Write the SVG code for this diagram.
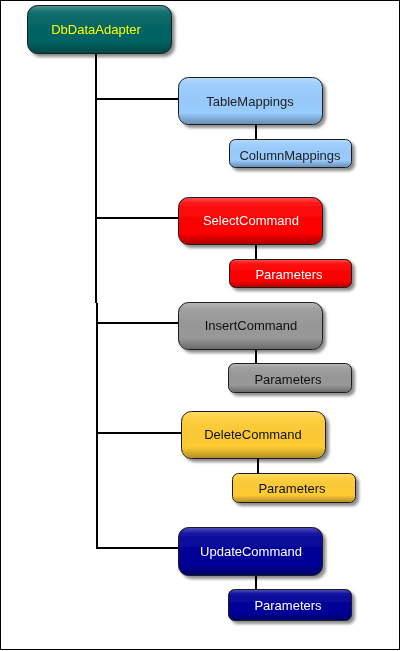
<svg xmlns="http://www.w3.org/2000/svg" width="401" height="651" viewBox="0 0 401 651">
<style>
.txt{font-family:"Liberation Sans",Arial,sans-serif;font-size:13px;text-anchor:middle;dominant-baseline:central}
.box{stroke:#1a1a1a;stroke-width:1}
.bev{fill:url(#bevel);stroke:none}
.con{fill:none;stroke:#000;stroke-width:2}
</style>
<defs>
<filter id="sh" x="-10%" y="-20%" width="130%" height="160%">
<feGaussianBlur in="SourceAlpha" stdDeviation="1.6"/>
<feOffset dx="3" dy="3" result="b"/>
<feComponentTransfer><feFuncA type="linear" slope="0.45"/></feComponentTransfer>
<feMerge><feMergeNode/><feMergeNode in="SourceGraphic"/></feMerge>
</filter>
<linearGradient id="bevel" x1="0" y1="0" x2="0" y2="1">
<stop offset="0" stop-color="#fff" stop-opacity="0.3"/>
<stop offset="0.12" stop-color="#fff" stop-opacity="0.08"/>
<stop offset="0.75" stop-color="#000" stop-opacity="0"/>
<stop offset="1" stop-color="#000" stop-opacity="0.3"/>
</linearGradient>
</defs>
<rect x="0.5" y="0.5" width="399" height="649" fill="#fff" stroke="#000" stroke-width="1"/>
<g id="connectors">
<path class="con" d="M96 54 V303 M97 303 V548 H178"/>
<path class="con" d="M96 99 H178"/>
<path class="con" d="M96 218 H178"/>
<path class="con" d="M97 323 H178"/>
<path class="con" d="M97 433 H181"/>
<path class="con" d="M256 125 V139"/>
<path class="con" d="M256 244 V259"/>
<path class="con" d="M256 350 V363"/>
<path class="con" d="M258 459 V473"/>
<path class="con" d="M256 576 V589"/>
</g>
<g id="dbdataadapter" filter="url(#sh)">
<rect class="box" x="27.5" y="5.5" width="144" height="48" rx="10" fill="#006464"/>
<rect class="bev" x="28" y="6" width="143" height="47" rx="10"/>
<text class="txt" x="96" y="29" fill="#ffff00">DbDataAdapter</text>
</g>
<g id="tablemappings" filter="url(#sh)">
<rect class="box" x="178.5" y="77.5" width="144" height="47" rx="10" fill="#99ccff"/>
<rect class="bev" x="179" y="78" width="143" height="46" rx="10"/>
<text class="txt" x="250" y="101" fill="#222">TableMappings</text>
</g>
<g id="columnmappings" filter="url(#sh)">
<rect class="box" x="229.5" y="139.5" width="122" height="28" rx="6" fill="#99ccff"/>
<rect class="bev" x="230" y="140" width="121" height="27" rx="6"/>
<text class="txt" x="290" y="155" fill="#222">ColumnMappings</text>
</g>
<g id="selectcommand" filter="url(#sh)">
<rect class="box" x="178.5" y="197.5" width="144" height="47" rx="10" fill="#ff0000"/>
<rect class="bev" x="179" y="198" width="143" height="46" rx="10"/>
<text class="txt" x="251" y="220" fill="#fff">SelectCommand</text>
</g>
<g id="select-parameters" filter="url(#sh)">
<rect class="box" x="229.5" y="259.5" width="122" height="28" rx="6" fill="#ff0000"/>
<rect class="bev" x="230" y="260" width="121" height="27" rx="6"/>
<text class="txt" x="289" y="274" fill="#fff">Parameters</text>
</g>
<g id="insertcommand" filter="url(#sh)">
<rect class="box" x="178.5" y="302.5" width="144" height="47" rx="10" fill="#999999"/>
<rect class="bev" x="179" y="303" width="143" height="46" rx="10"/>
<text class="txt" x="251" y="325" fill="#111">InsertCommand</text>
</g>
<g id="insert-parameters" filter="url(#sh)">
<rect class="box" x="228.5" y="363.5" width="123" height="29" rx="6" fill="#999999"/>
<rect class="bev" x="229" y="364" width="122" height="28" rx="6"/>
<text class="txt" x="288" y="379" fill="#111">Parameters</text>
</g>
<g id="deletecommand" filter="url(#sh)">
<rect class="box" x="181.5" y="411.5" width="144" height="47" rx="10" fill="#ffcc33"/>
<rect class="bev" x="182" y="412" width="143" height="46" rx="10"/>
<text class="txt" x="253" y="434" fill="#111">DeleteCommand</text>
</g>
<g id="delete-parameters" filter="url(#sh)">
<rect class="box" x="232.5" y="473.5" width="123" height="29" rx="6" fill="#ffcc33"/>
<rect class="bev" x="233" y="474" width="122" height="28" rx="6"/>
<text class="txt" x="292" y="488" fill="#111">Parameters</text>
</g>
<g id="updatecommand" filter="url(#sh)">
<rect class="box" x="178.5" y="527.5" width="144" height="48" rx="10" fill="#000099"/>
<rect class="bev" x="179" y="528" width="143" height="47" rx="10"/>
<text class="txt" x="251" y="551" fill="#fff">UpdateCommand</text>
</g>
<g id="update-parameters" filter="url(#sh)">
<rect class="box" x="228.5" y="589.5" width="123" height="31" rx="6" fill="#000099"/>
<rect class="bev" x="229" y="590" width="122" height="30" rx="6"/>
<text class="txt" x="288" y="605" fill="#fff">Parameters</text>
</g>
</svg>
